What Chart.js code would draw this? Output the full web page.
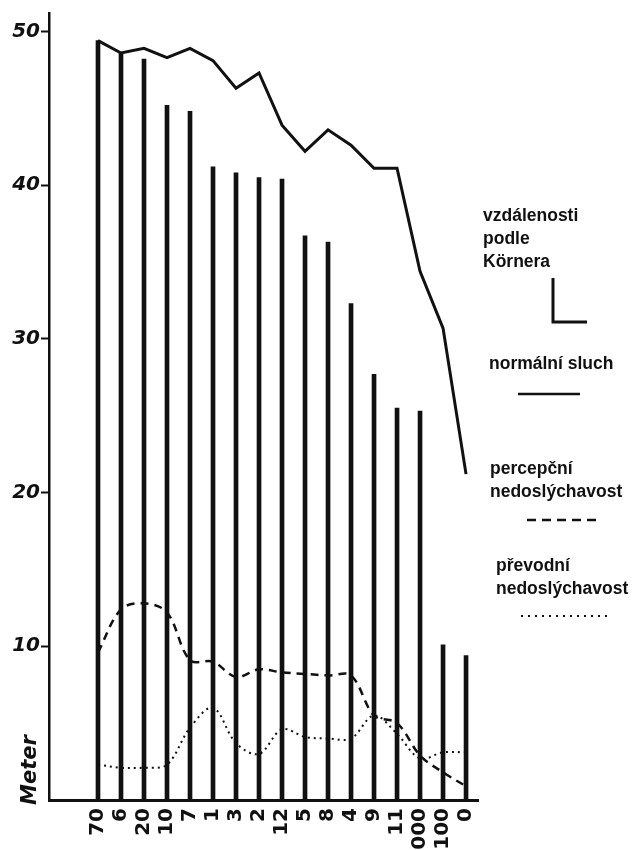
<!DOCTYPE html>
<html>
<head>
<meta charset="utf-8">
<script src="https://cdn.jsdelivr.net/npm/chart.js@4/dist/chart.umd.min.js"></script>
<style>
  html, body { margin: 0; padding: 0; background: #fff; }
  #wrap { width: 632px; height: 850px; position: relative; }
</style>
</head>
<body>
<div id="wrap"><canvas id="c" width="632" height="850"></canvas></div>
<script>
// Test distances (metres) along the x axis
const categories = ['70','6','20','10','7','1','3','2','12','5','8','4','9','11','1000','100','0'];
// Hearing distance according to Körner (vertical bars)
const kornerDistances = [49.4,48.6,48.2,45.2,44.8,41.2,40.8,40.5,40.4,36.7,36.3,32.3,27.7,25.5,25.3,10.1,9.4];
// normální sluch
const normalHearing = [49.4,48.6,48.9,48.3,48.9,48.1,46.3,47.3,43.9,42.2,43.6,42.6,41.1,41.1,34.4,30.7,21.2];
// percepční nedoslýchavost
const perceptiveLoss = [9.6,12.4,12.8,12.2,9.1,9.0,8.0,8.5,8.3,8.2,8.1,8.1,5.5,5.0,2.9,1.8,0.9];
// převodní nedoslýchavost
const conductiveLoss = [2.3,2.1,2.1,2.3,4.7,6.0,3.7,3.0,4.6,4.1,4.0,4.0,5.5,4.3,2.7,3.1,3.1];
// y-axis tick labels
const yTicks = [10, 20, 30, 40, 50];

const toPoints = arr => arr.map((v, i) => ({ x: i, y: v }));

const legendItems = [
  { lines: ['vzdálenosti', 'podle', 'Körnera'], x: 483, y: 221 },
  { lines: ['normální sluch'], x: 489, y: 369 },
  { lines: ['percepční', 'nedoslýchavost'], x: 490, y: 474 },
  { lines: ['převodní', 'nedoslýchavost'], x: 496, y: 571 }
];

const sideTexts = {
  id: 'sideTexts',
  afterDraw(chart) {
    const ctx = chart.ctx;
    ctx.save();
    ctx.fillStyle = '#111';
    ctx.strokeStyle = '#111';
    // axis unit
    ctx.save();
    ctx.translate(36, 770);
    ctx.rotate(-Math.PI / 2);
    ctx.font = 'italic bold 21px "DejaVu Sans"';
    ctx.textAlign = 'center';
    ctx.textBaseline = 'alphabetic';
    ctx.fillText('Meter', 0, 0);
    ctx.restore();

    ctx.font = 'bold 17.5px "Liberation Sans"';
    ctx.textAlign = 'left';
    ctx.textBaseline = 'alphabetic';
    legendItems.forEach(item => {
      item.lines.forEach((t, k) => ctx.fillText(t, item.x, item.y + k * 23));
    });
    // symbols
    ctx.lineCap = 'butt';
    // bar symbol (L shape)
    ctx.lineWidth = 3;
    ctx.setLineDash([]);
    ctx.beginPath();
    ctx.moveTo(553, 278); ctx.lineTo(553, 322); ctx.lineTo(587, 322);
    ctx.stroke();
    // solid
    ctx.lineWidth = 2.5;
    ctx.beginPath(); ctx.moveTo(518, 394); ctx.lineTo(580, 394); ctx.stroke();
    // dashed
    ctx.setLineDash([9, 6]);
    ctx.beginPath(); ctx.moveTo(527, 520); ctx.lineTo(600, 520); ctx.stroke();
    // dotted
    ctx.lineWidth = 2;
    ctx.setLineDash([2, 5]);
    ctx.beginPath(); ctx.moveTo(521, 616); ctx.lineTo(608, 616); ctx.stroke();
    ctx.restore();
  }
};

new Chart(document.getElementById('c'), {
  data: {
    datasets: [
      {
        type: 'bar',
        label: 'vzdálenosti podle Körnera',
        data: toPoints(kornerDistances),
        backgroundColor: '#111',
        barThickness: 4,
        order: 4
      },
      {
        type: 'line',
        label: 'normální sluch',
        data: toPoints(normalHearing),
        borderColor: '#111',
        borderWidth: 3,
        pointRadius: 0,
        tension: 0,
        fill: false,
        order: 1
      },
      {
        type: 'line',
        label: 'percepční nedoslýchavost',
        data: toPoints(perceptiveLoss),
        borderColor: '#111',
        borderWidth: 2.5,
        borderDash: [8, 6],
        pointRadius: 0,
        tension: 0.35,
        fill: false,
        order: 2
      },
      {
        type: 'line',
        label: 'převodní nedoslýchavost',
        data: toPoints(conductiveLoss),
        borderColor: '#111',
        borderWidth: 2,
        borderDash: [2, 4],
        pointRadius: 0,
        tension: 0.35,
        fill: false,
        order: 3
      }
    ]
  },
  options: {
    responsive: false,
    animation: false,
    devicePixelRatio: 1,
    layout: { padding: { top: 12, right: 154, left: 0, bottom: 0 } },
    plugins: { legend: { display: false }, tooltip: { enabled: false } },
    scales: {
      x: {
        type: 'linear',
        offset: false,
        min: -2.13,
        max: 16.52,
        afterBuildTicks: axis => { axis.ticks = categories.map((_, i) => ({ value: i })); },
        afterFit: axis => { axis.height = 50; axis.paddingLeft = 0; axis.paddingRight = 0; },
        grid: { display: false, drawTicks: false, offset: false },
        border: { display: true, color: '#111', width: 3 },
        ticks: {
          autoSkip: false,
          minRotation: 90,
          maxRotation: 90,
          padding: 8,
          color: '#111',
          font: { family: '"DejaVu Sans"', weight: 'bold', size: 20 },
          callback: v => categories[v] ?? ''
        }
      },
      y: {
        type: 'linear',
        min: 0,
        max: 51.2,
        afterBuildTicks: axis => { axis.ticks = yTicks.map(v => ({ value: v })); },
        afterFit: axis => { axis.width = 49; },
        grid: { drawOnChartArea: false, drawTicks: true, tickLength: 8, tickWidth: 2, color: '#111' },
        border: { display: true, color: '#111', width: 2.5 },
        ticks: {
          padding: 1,
          color: '#111',
          font: { family: '"DejaVu Sans"', weight: 'bold', style: 'italic', size: 20 }
        }
      }
    }
  },
  plugins: [sideTexts]
});
</script>
</body>
</html>
